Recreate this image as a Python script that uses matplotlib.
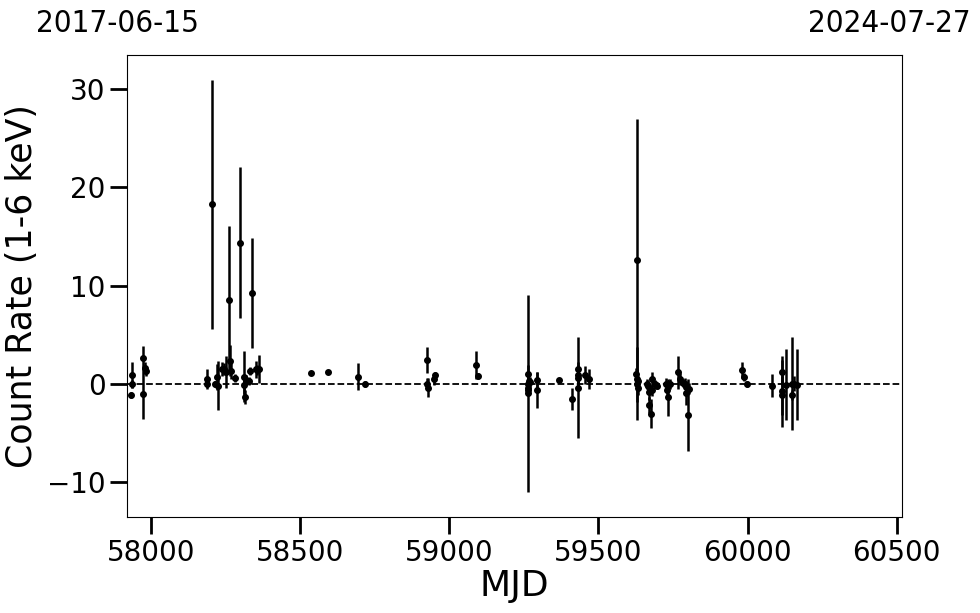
import matplotlib
matplotlib.use("Agg")
import matplotlib.pyplot as plt
import numpy as np

# light curve points (MJD, count rate, error)
mjd = [57932, 57937, 57936, 57974, 57973, 57980, 57982,
       58188, 58187, 58205, 58214, 58220, 58224, 58236, 58243, 58251,
       58261, 58265, 58267, 58282, 58299, 58312, 58312, 58316, 58318,
       58328, 58332, 58338, 58350, 58356, 58362,
       58535, 58594, 58695, 58718,
       58924, 58926, 58927, 58950, 58953, 59090, 59097,
       59263, 59263, 59264, 59264, 59265, 59266, 59272, 59293, 59293,
       59369, 59412, 59430, 59431, 59432, 59433, 59456, 59469,
       59627, 59629, 59629, 59630, 59632, 59634,
       59662, 59666, 59670, 59670, 59675, 59678, 59681, 59689, 59695,
       59726, 59729, 59734, 59740, 59768, 59774, 59783,
       59790, 59793, 59795, 59799, 59803,
       59982, 59988, 59997,
       60083, 60114, 60115, 60117, 60128, 60148, 60150, 60157, 60165]
rate = [-1.15, 0.9, 0.0, 2.65, -1.05, 1.6, 1.3,
        0.5, 0.0, 18.3, 0.0, 0.65, -0.2, 1.5, 1.5, 1.2,
        8.55, 2.35, 1.3, 0.6, 14.35, 0.7, -0.1, -1.4, 0.4,
        0.25, 1.3, 9.25, 1.45, 1.4, 1.5,
        1.1, 1.2, 0.7, 0.0,
        0.0, 2.4, -0.4, 0.5, 0.9, 1.9, 0.8,
        1.0, -1.0, 0.0, -0.4, -0.7, 0.3, 0.2, 0.4, -0.65,
        0.35, -1.55, 1.5, 0.9, 0.6, -0.4, 0.9, 0.5,
        1.0, 12.55, 0.5, 0.0, -0.4, 0.3,
        0.0, -0.2, -0.85, -2.2, -3.05, 0.5, -0.7, 0.0, -0.2,
        0.0, -0.7, -1.4, 0.0, 1.15, 0.5, 0.05,
        0.0, -0.35, -1.0, -3.2, -0.5,
        1.4, 0.7, 0.0,
        -0.2, 1.15, -0.8, -1.2, -0.1, 0.0, -1.2, 0.0, -0.1]
err = [0.3, 1.3, 0.4, 1.2, 2.6, 0.6, 0.5,
       1.0, 0.3, 12.7, 0.3, 1.3, 2.5, 0.7, 0.6, 1.6,
       7.5, 1.6, 0.8, 0.4, 7.7, 2.6, 1.0, 0.7, 0.5,
       0.4, 0.4, 5.6, 0.9, 0.5, 1.4,
       0.2, 0.2, 1.4, 0.3,
       0.6, 1.35, 1.0, 0.6, 0.3, 1.4, 0.3,
       0.9, 10.0, 0.8, 0.6, 0.5, 0.4, 0.5, 0.8, 1.8,
       0.2, 1.15, 0.7, 1.0, 0.8, 5.1, 0.9, 1.0,
       0.6, 14.4, 1.0, 3.7, 0.8, 0.5,
       0.5, 0.6, 0.8, 0.8, 1.5, 0.7, 0.6, 0.4, 0.4,
       0.6, 0.8, 1.9, 0.5, 1.7, 0.6, 0.4,
       0.6, 0.6, 1.2, 3.7, 0.6,
       0.8, 0.4, 0.3,
       1.15, 1.3, 3.6, 2.0, 3.6, 4.7, 0.5, 0.8, 3.6]

start_label = "2017-06-15"
end_label = "2024-07-27"
mjd_start, mjd_end = 57919, 60518

fig = plt.figure(figsize=(9.8, 6.13), dpi=100)
ax = fig.add_axes([0.1296, 0.1566, 0.7908, 0.7537])

ax.errorbar(mjd, rate, yerr=err, fmt="o", color="black", markersize=4,
            elinewidth=1.8, capsize=0)
ax.axhline(0, color="black", linestyle="--", linewidth=1.3)

ax.set_xlim(mjd_start, mjd_end)
ax.set_ylim(-13.6, 33.5)
ax.set_xticks([58000, 58500, 59000, 59500, 60000, 60500])
ax.set_yticks([-10, 0, 10, 20, 30])
ax.tick_params(labelsize=20, length=12, width=2)
ax.set_xlabel("MJD", fontsize=26, labelpad=2)
ax.set_ylabel("Count Rate (1-6 keV)", fontsize=25, labelpad=6)

fig.text(0.120, 0.962, start_label, fontsize=22.5, fontstretch="condensed",
         ha="center", va="center")
fig.text(0.907, 0.962, end_label, fontsize=22.5, fontstretch="condensed",
         ha="center", va="center")

fig.savefig("out.png", dpi=100)
